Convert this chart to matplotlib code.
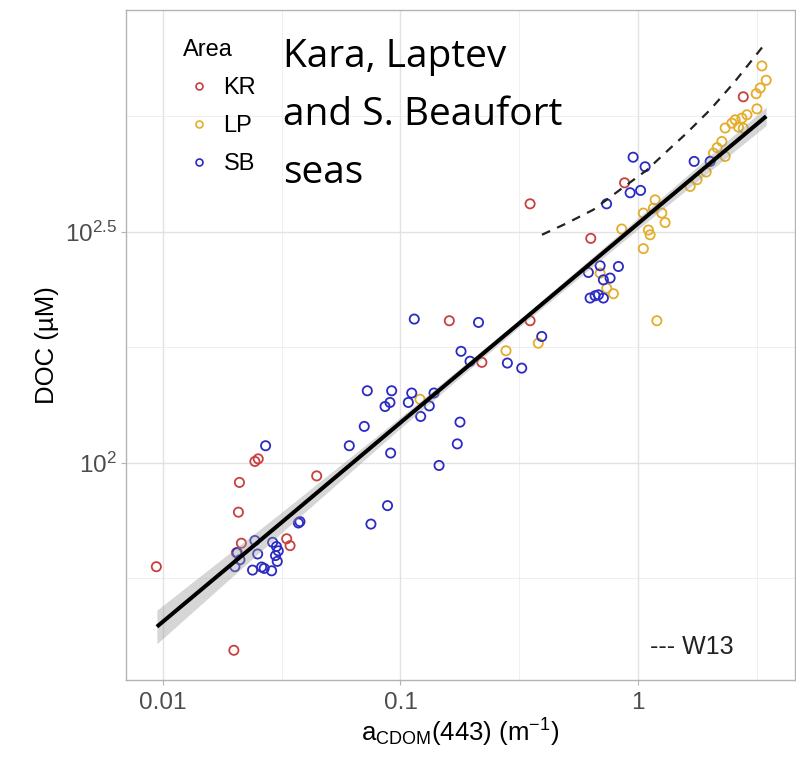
import numpy as np
import matplotlib
matplotlib.use('Agg')
import matplotlib.pyplot as plt
from matplotlib.lines import Line2D

plt.rcParams['font.family'] = ['Liberation Sans', 'DejaVu Sans']
plt.rcParams['mathtext.fontset'] = 'custom'
plt.rcParams['mathtext.rm'] = 'Liberation Sans'
plt.rcParams['mathtext.it'] = 'Liberation Sans:italic'

# -----------------------------
# Data
# -----------------------------
# KR (Kara sea)
kr_acdom = [0.00939, 0.0199, 0.0208, 0.0210, 0.0244, 0.0252, 0.0214, 0.0204, 0.0332,
            0.0343, 0.0444, 0.1605, 0.220, 0.351, 0.351, 0.632, 0.877, 2.77]
kr_doc = [59.6, 39.3, 78.2, 90.7, 100.7, 102.0, 67.0, 63.9, 68.5,
          66.2, 93.7, 203, 165, 203, 363.5, 306, 403.6, 619.6]

# LP (Laptev sea)
lp_acdom = [0.1208, 0.278, 0.380, 0.692, 0.738, 0.787, 0.853, 1.052, 1.105, 1.123,
            1.052, 1.160, 1.179, 1.258, 1.299, 1.199, 1.656, 1.770, 1.933, 2.075,
            2.151, 2.251, 2.324, 2.324, 2.480, 2.561, 2.644, 2.733, 2.869, 3.162,
            3.140, 3.264, 3.459, 3.318, 2.77]
lp_doc = [137.3, 174.8, 181.5, 257.4, 238.8, 232.3, 320.6, 290.8, 319, 311.5,
          347.1, 355.6, 370.7, 347.1, 331.1, 203, 396.4, 410, 425.9, 468,
          480.8, 496, 460.3, 530.3, 543.3, 552.5, 532.8, 557, 566.5, 583.4,
          629.2, 647.3, 672.9, 722.6, 530]

# SB (southern Beaufort sea)
sb_acdom = [0.02706, 0.0244, 0.02897, 0.03006, 0.0306, 0.02506, 0.02056, 0.0211, 0.0201,
            0.02385, 0.02604, 0.0267, 0.02869, 0.0303, 0.0298, 0.0372, 0.03775, 0.0609,
            0.0704, 0.0725, 0.0918, 0.0861, 0.0903, 0.0909, 0.0882, 0.0751, 0.1143,
            0.2130, 0.1798, 0.1962, 0.1115, 0.1079, 0.1384, 0.1322, 0.1216, 0.1780,
            0.1734, 0.1453, 0.393, 0.2817, 0.3237, 0.6175, 0.692, 0.8263, 0.7142,
            0.7623, 0.628, 0.659, 0.6805, 0.7142, 0.7367, 0.9526, 1.070, 0.9254,
            1.024, 1.721, 2.010]
sb_doc = [108.9, 67.9, 67.3, 65.9, 64.5, 63.5, 63.9, 61.7, 59.6,
          58.6, 59.5, 59.1, 58.4, 61.2, 63.0, 74.1, 74.6, 108.9,
          119.9, 143.2, 143.2, 132.4, 135.1, 105, 80.8, 73.7, 204.7,
          201.3, 174.3, 165.9, 141.6, 135.1, 141.6, 132.8, 126, 122.5,
          109.9, 98.7, 187.7, 164.4, 160.3, 258.2, 267, 266, 248.9,
          251.1, 227.3, 229.9, 231, 227.3, 363.5, 458.5, 437.2, 384.1,
          388.6, 449, 449]

# fitted line and its confidence band
fit_acdom = [0.00944, 0.0316, 0.1, 0.316, 1, 3.46]
fit_doc = [44.2, 74.3, 122.2, 200.5, 329.6, 562.3]
fit_lo = [40.6, 70.6, 118.9, 196.8, 320.6, 537]
fit_hi = [48.0, 78.2, 125.6, 204.2, 338.8, 589]

# W13 relation (dashed)
w13_acdom = [0.394, 0.501, 0.648, 0.84, 1.088, 1.32, 1.60, 2.01, 2.52, 3.06, 3.43]
w13_doc = [311.6, 330, 353, 390, 430, 472, 517, 581, 663, 751, 809]

areas = ['KR', 'LP', 'SB']
colors = {'KR': '#C8403F', 'LP': '#E4AD2C', 'SB': '#2B2BC4'}

x_ticks = [0.01, 0.1, 1]
x_ticklabels = ['0.01', '0.1', '1']
y_ticks = [10 ** 2, 10 ** 2.5]
y_ticklabels = [r'$\mathregular{10^{2}}$', r'$\mathregular{10^{2.5}}$']

# -----------------------------
# Figure
# -----------------------------
fig = plt.figure(figsize=(7.96, 7.61), dpi=100)
ax = fig.add_axes([0.158, 0.1064, 0.841, 0.8805])
ax.set_xscale('log')
ax.set_yscale('log')
ax.set_xlim(10 ** -2.156, 10 ** 0.661)
ax.set_ylim(10 ** 1.530, 10 ** 2.980)

# grid (ggplot theme_light look)
for v in [10 ** -1.5, 10 ** -0.5, 10 ** 0.5]:
    ax.axvline(v, color='#EFEFEF', lw=0.7, zorder=0)
for v in [10 ** 1.75, 10 ** 2.25, 10 ** 2.75]:
    ax.axhline(v, color='#EFEFEF', lw=0.7, zorder=0)
for v in x_ticks:
    ax.axvline(v, color='#E2E2E2', lw=1.0, zorder=0)
for v in y_ticks:
    ax.axhline(v, color='#E2E2E2', lw=1.0, zorder=0)

pts = {'KR': (kr_acdom, kr_doc), 'LP': (lp_acdom, lp_doc), 'SB': (sb_acdom, sb_doc)}
for a in areas:
    xs, ys = pts[a]
    ax.scatter(xs, ys, s=44, facecolors='none', edgecolors=colors[a], linewidths=1.3, zorder=2)

# fit + band, interpolated in log-log space
gx = np.logspace(np.log10(fit_acdom[0]), np.log10(fit_acdom[-1]), 200)
lgx = np.log10(fit_acdom)
band_lo = 10 ** np.interp(np.log10(gx), lgx, np.log10(fit_lo))
band_hi = 10 ** np.interp(np.log10(gx), lgx, np.log10(fit_hi))
ax.fill_between(gx, band_lo, band_hi, color='#999999', alpha=0.4, lw=0, zorder=3)
ax.plot(fit_acdom, fit_doc, color='black', lw=2.9, zorder=4, solid_capstyle='butt')

ax.plot(w13_acdom, w13_doc, color='#222222', lw=1.6, ls=(0, (4, 3.5)), zorder=4)

ax.set_xticks(x_ticks)
ax.set_xticklabels(x_ticklabels)
ax.set_yticks(y_ticks)
ax.set_yticklabels(y_ticklabels)
ax.minorticks_off()
ax.tick_params(axis='both', colors='#B3B3B3', labelcolor='#4D4D4D', labelsize=17.5,
               length=3.5, width=0.8)
ax.tick_params(axis='x', pad=5)
ax.tick_params(axis='y', pad=3)
for sp in ax.spines.values():
    sp.set_color('#B3B3B3')
    sp.set_linewidth(1.0)

ax.set_xlabel(r'$\mathregular{a_{CDOM}(443)\ (m^{-1})}$', fontsize=18.5, labelpad=2)
ax.set_ylabel('DOC (µM)', fontsize=18.5, labelpad=4)

handles = [Line2D([], [], ls='none', marker='o', markersize=5, markerfacecolor='none',
                  markeredgecolor=colors[a], markeredgewidth=1.2) for a in areas]
ax.legend(handles, areas, title='Area', loc='upper left', bbox_to_anchor=(0.072, 0.971),
          frameon=False, fontsize=17, title_fontsize=17, alignment='left',
          labelspacing=0.68, handletextpad=0.4, handlelength=1.3, borderaxespad=0)

ax.text(0.783, 0.049, '--- W13', transform=ax.transAxes, fontsize=18, color='#222222',
        va='center', ha='left')

# overlay title
for i, line in enumerate(['Kara, Laptev', 'and S. Beaufort', 'seas']):
    fig.text(0.3555, 1 - (67 + 58 * i) / 761, line, family='Open Sans', fontsize=28,
             color='black', va='baseline', ha='left')

fig.savefig('out.png', dpi=100)
